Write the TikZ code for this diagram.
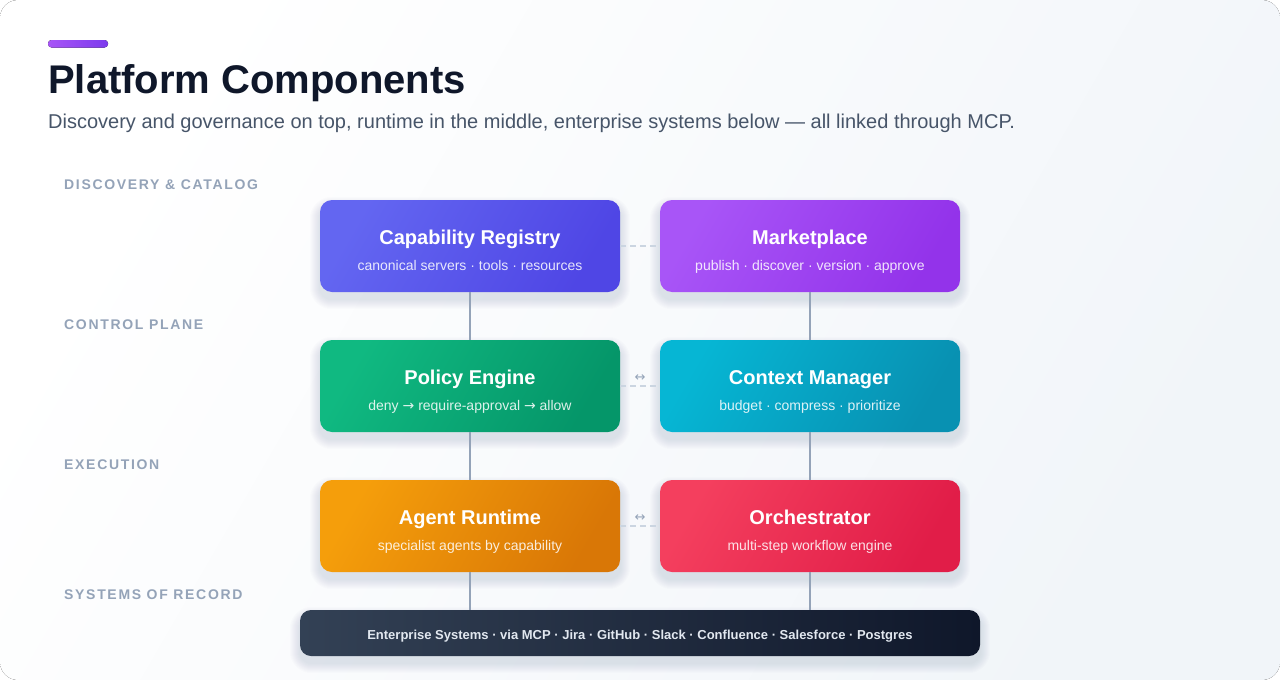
\documentclass[tikz,border=0pt]{standalone}
\usepackage{fontspec}
\setmainfont{Liberation Sans}
\newfontfamily\layerfont[LetterSpace=12]{Liberation Sans}
\newfontfamily\arrowfont{DejaVu Sans}
\usetikzlibrary{backgrounds,calc}
\definecolor{bgA}{HTML}{FFFFFF}
\definecolor{bgB}{HTML}{F1F5F9}
\definecolor{titlec}{HTML}{0F172A}
\definecolor{subc}{HTML}{475569}
\definecolor{layerc}{HTML}{94A3B8}
\definecolor{linec}{HTML}{94A3B8}
\definecolor{dashc}{HTML}{CBD5E1}
\definecolor{accA}{HTML}{A855F7}
\definecolor{accB}{HTML}{7C3AED}
\definecolor{indA}{HTML}{6366F1}
\definecolor{indB}{HTML}{4F46E5}
\definecolor{purA}{HTML}{A855F7}
\definecolor{purB}{HTML}{9333EA}
\definecolor{grnA}{HTML}{10B981}
\definecolor{grnB}{HTML}{059669}
\definecolor{cyaA}{HTML}{06B6D4}
\definecolor{cyaB}{HTML}{0891B2}
\definecolor{ambA}{HTML}{F59E0B}
\definecolor{ambB}{HTML}{D97706}
\definecolor{rosA}{HTML}{F43F5E}
\definecolor{rosB}{HTML}{E11D48}
\definecolor{entA}{HTML}{334155}
\definecolor{entB}{HTML}{0F172A}
\definecolor{entT}{HTML}{E2E8F0}
\definecolor{shadc}{HTML}{334155}
\newcommand{\arr}[1]{{\arrowfont #1}}
\tikzset{
  comp/.style 2 args={rounded corners=12pt, minimum width=300pt, minimum height=92pt,
    inner sep=0pt, left color=#1, right color=#2, shading angle=60},
  ctitle/.style={text=white, font=\fontsize{20}{24}\selectfont\bfseries, inner sep=0pt, anchor=base},
  csub/.style={text=white, text opacity=0.86, font=\fontsize{14}{16}\selectfont, inner sep=0pt, anchor=base},
  layer/.style={text=layerc, font=\layerfont\fontsize{14}{16}\selectfont\bfseries, anchor=west, inner sep=0pt},
  vlink/.style={draw=linec, line width=1.8pt},
  hlink/.style={draw=dashc, line width=1.8pt, dash pattern=on 6pt off 4pt},
  biarrow/.style={text=layerc, font=\arrowfont\fontsize{13}{14}\selectfont, inner sep=0pt}
}
\begin{document}
\begin{tikzpicture}[x=1pt,y=-1pt]
\useasboundingbox (0,0) rectangle (1280,680);
% nodes
\node[comp={indA}{indB}] (cr) at (470,246) {};
\node[comp={purA}{purB}] (mk) at (810,246) {};
\node[comp={grnA}{grnB}] (pe) at (470,386) {};
\node[comp={cyaA}{cyaB}] (cm) at (810,386) {};
\node[comp={ambA}{ambB}] (ar) at (470,526) {};
\node[comp={rosA}{rosB}] (or) at (810,526) {};
\node[rounded corners=11pt, minimum width=680pt, minimum height=46pt, inner sep=0pt,
  left color=entA, right color=entB] (ent) at (640,633) {};
\begin{pgfonlayer}{background}
  \fill[left color=bgA, right color=bgB, shading angle=60, rounded corners=18pt] (0,0) rectangle (1280,680);
  \foreach \n in {cr,mk,pe,cm,ar,or,ent}{
    \foreach \i in {1,...,10}{
      \fill[shadc, opacity=0.011, rounded corners={12pt+\i pt}]
        ($(\n.north west)+(-\i,-\i+7)$) rectangle ($(\n.south east)+(\i,\i+7)$);
    }
  }
\end{pgfonlayer}
% accent + title
\fill[left color=accA, right color=accB, rounded corners=3.5pt] (48,40) rectangle (108,47.5);
\node[anchor=base west, inner sep=0pt, text=titlec, font=\fontsize{40}{44}\selectfont\bfseries] (title) at (48,93) {Platform Components};
\node[anchor=base west, inner sep=0pt, text=subc, font=\fontsize{20}{24}\selectfont] (subtitle) at (48,128) {Discovery and governance on top, runtime in the middle, enterprise systems below — all linked through MCP.};
% layer labels
\node[layer] (l1) at (64,185) {DISCOVERY \& CATALOG};
\node[layer] (l2) at (64,325) {CONTROL PLANE};
\node[layer] (l3) at (64,465) {EXECUTION};
\node[layer] (l4) at (64,595) {SYSTEMS OF RECORD};
% connectors
\draw[vlink] (cr.south) -- (pe.north);
\draw[vlink] (mk.south) -- (cm.north);
\draw[vlink] (pe.south) -- (ar.north);
\draw[vlink] (cm.south) -- (or.north);
\draw[vlink] (ar.south) -- (ar.south |- ent.north);
\draw[vlink] (or.south) -- (or.south |- ent.north);
\draw[hlink] (cr.east) -- (mk.west);
\draw[hlink] (pe.east) -- (cm.west);
\draw[hlink] (ar.east) -- (or.west);
\node[biarrow] (b1) at ($(pe.east)!0.5!(cm.west)+(0,-8)$) {↔};
\node[biarrow] (b2) at ($(ar.east)!0.5!(or.west)+(0,-8)$) {↔};
% texts
\node[ctitle] (crt) at ($(cr.center)+(0,-2)$) {Capability Registry};
\node[csub] (crs) at ($(cr.center)+(0,24)$) {canonical servers · tools · resources};
\node[ctitle] (mkt) at ($(mk.center)+(0,-2)$) {Marketplace};
\node[csub] (mks) at ($(mk.center)+(0,24)$) {publish · discover · version · approve};
\node[ctitle] (pet) at ($(pe.center)+(0,-2)$) {Policy Engine};
\node[csub] (pes) at ($(pe.center)+(0,24)$) {deny \arr{→} require-approval \arr{→} allow};
\node[ctitle] (cmt) at ($(cm.center)+(0,-2)$) {Context Manager};
\node[csub] (cms) at ($(cm.center)+(0,24)$) {budget · compress · prioritize};
\node[ctitle] (art) at ($(ar.center)+(0,-2)$) {Agent Runtime};
\node[csub] (ars) at ($(ar.center)+(0,24)$) {specialist agents by capability};
\node[ctitle] (ort) at ($(or.center)+(0,-2)$) {Orchestrator};
\node[csub] (ors) at ($(or.center)+(0,24)$) {multi-step workflow engine};
\node[text=entT, font=\fontsize{13}{15}\selectfont\bfseries, inner sep=0pt, anchor=base] (entt) at ($(ent.center)+(0,6)$) {Enterprise Systems · via MCP · Jira · GitHub · Slack · Confluence · Salesforce · Postgres};
\end{tikzpicture}
\end{document}
